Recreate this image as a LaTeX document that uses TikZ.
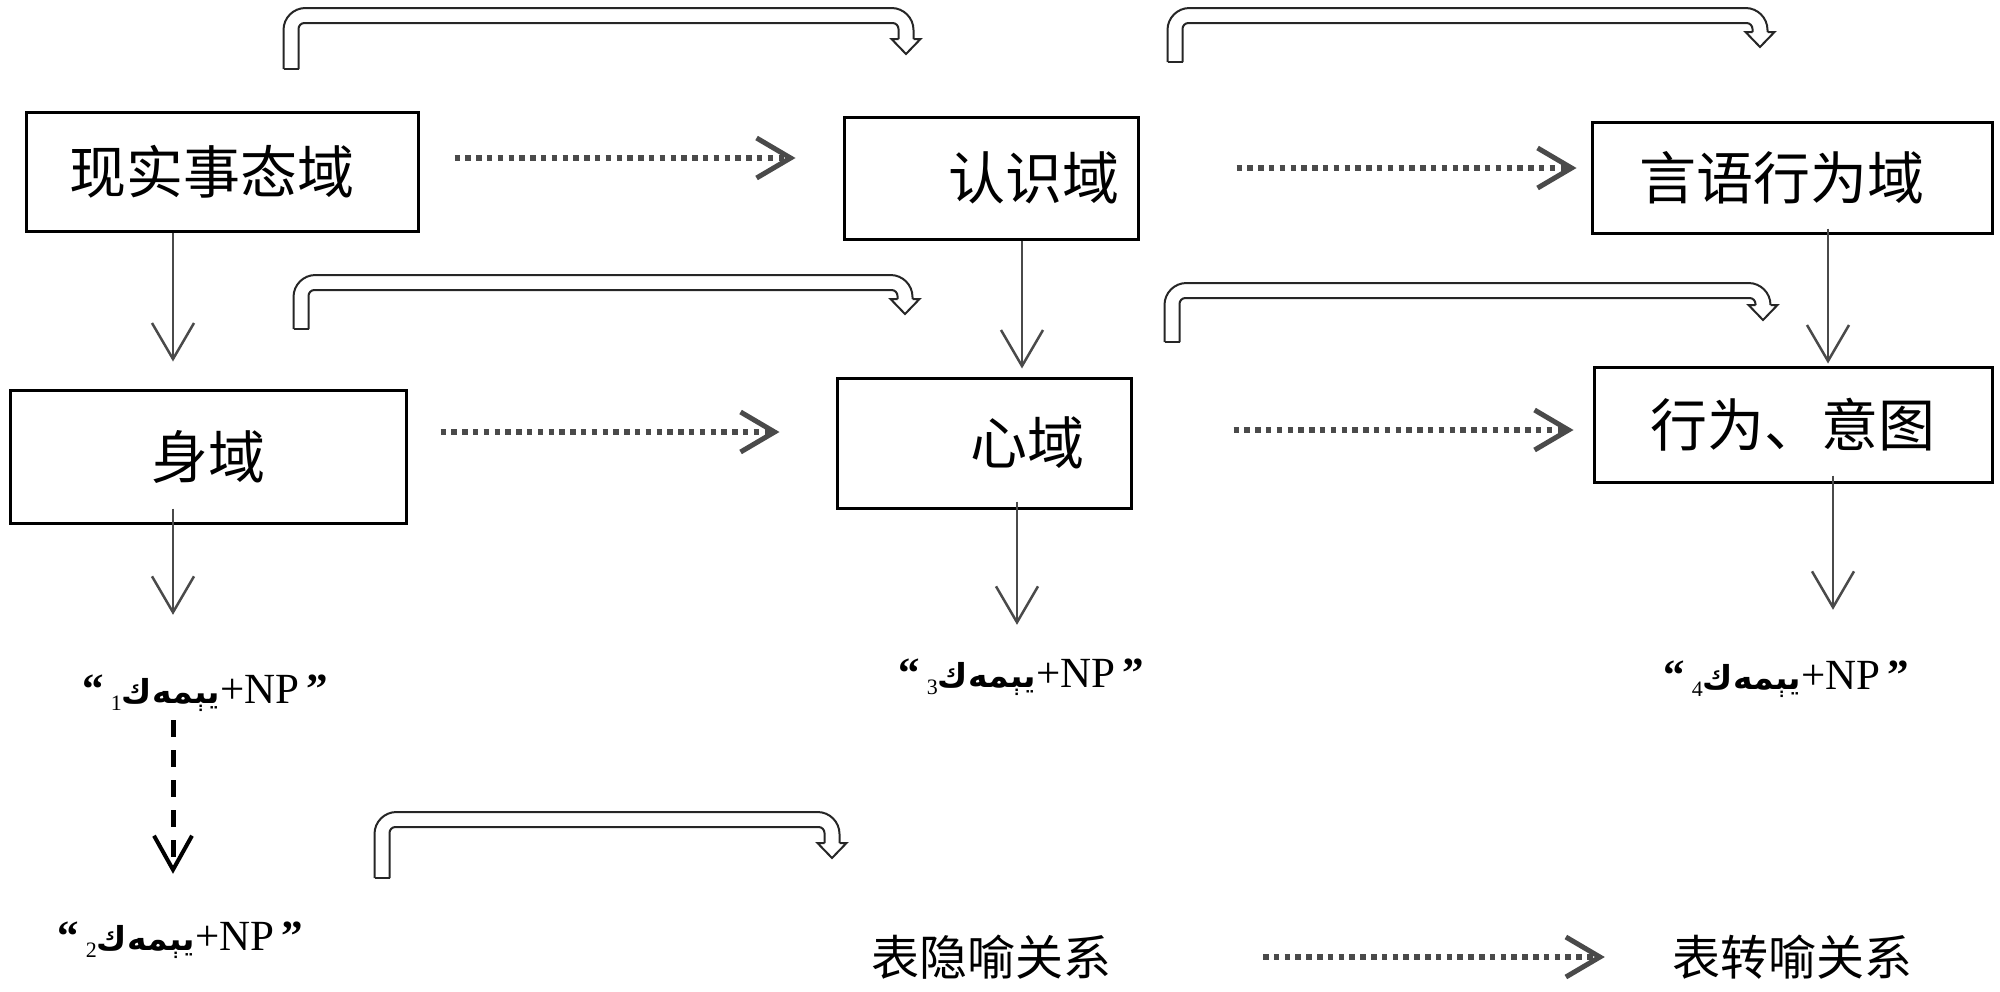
\documentclass[tikz,border=0pt]{standalone}
\usepackage{fontspec}
\setmainfont{Liberation Serif}
\newfontfamily\cjk{Noto Sans CJK SC}
\newfontfamily\arabicfont[Script=Arabic]{DejaVu Sans}
\TeXXeTstate=1
\usetikzlibrary{arrows.meta}
\definecolor{arrowgray}{HTML}{4A4A4A}

% quoted form with its index
\newcommand{\yemek}[1]{{\bfseries “}\,\raisebox{-7pt}{\fontsize{22}{24}\selectfont #1}{\arabicfont\bfseries\fontsize{33}{40}\selectfont\beginR يېمەك\endR}+NP\,{\bfseries ”}}

% hollow bent arrow: left x, bottom y, top y, right x, tip y
\newcommand{\metaarrow}[5]{%
  \draw[hook, rounded corners=22pt] (#1-7.5,#2) -- (#1-7.5,#3) -- (#4+7.5,#3) -- (#4+7.5,#5-15);
  \draw[hook, rounded corners=6pt] (#1+7.5,#2) -- (#1+7.5,#3+15) -- (#4-7.5,#3+15) -- (#4-7.5,#5-15);
  \draw[hook] (#4+7.5,#5-15) -- (#4+14.5,#5-15) -- (#4,#5) -- (#4-14.5,#5-15) -- (#4-7.5,#5-15);
  \draw[hook] (#1-7.5,#2) -- (#1+7.5,#2);}

\begin{document}
\begin{tikzpicture}[x=1pt, y=-1pt]
    % Define the styles
    \tikzset{box/.style={rectangle, draw, line width=3pt, inner sep=0pt, font=\cjk\fontsize{57}{62}\selectfont}}
    \tikzset{expr/.style={inner sep=0pt, text height=34pt, text depth=10pt, font=\fontsize{43}{50}\selectfont}}
    \tikzset{legend/.style={inner sep=0pt, font=\cjk\fontsize{48}{52}\selectfont}}
    \tikzset{down/.style={draw=arrowgray, line width=2.5pt, -{Straight Barb[length=36pt, width=42pt]}}}
    \tikzset{dotline/.style={draw=arrowgray, line width=5.5pt, dash pattern=on 5.5pt off 5.3pt, -{Straight Barb[length=34pt, width=40pt, line width=5pt]}}}
    \tikzset{dashline/.style={draw=black, line width=5pt, dash pattern=on 17pt off 13pt, -{Straight Barb[length=34pt, width=38pt, line width=4pt]}}}
    \tikzset{hook/.style={draw=black!85, line width=2pt}}

    \useasboundingbox (0,0) rectangle (2000,991);

    % Place the domain blocks
    \node[box, minimum width=392pt, minimum height=119pt] (real) at (222,171.5) {\hspace*{-20pt}现实事态域};
    \node[box, minimum width=294pt, minimum height=122pt] (cog) at (991,178) {\hspace*{86pt}认识域};
    \node[box, minimum width=400pt, minimum height=111pt] (speech) at (1792,177.5) {\hspace*{-20pt}言语行为域};
    \node[box, minimum width=396pt, minimum height=133pt] (body) at (208,456.5) {身域};
    \node[box, minimum width=294pt, minimum height=130pt] (mind) at (984,443) {\hspace*{86pt}心域};
    \node[box, minimum width=398pt, minimum height=115pt] (act) at (1793,424.5) {行为、意图};

    % The forms
    \node[expr, anchor=base] (formA) at (205,703) {\yemek{1}};
    \node[expr, anchor=base] (formB) at (180,950) {\yemek{2}};
    \node[expr, anchor=base] (formC) at (1021,687) {\yemek{3}};
    \node[expr, anchor=base] (formD) at (1786,689) {\yemek{4}};

    % Legend
    \node[legend] (metaphor) at (991,957) {表隐喻关系};
    \node[legend] (metonymy) at (1792,957) {表转喻关系};
    \coordinate (dotstart) at (1263,957);

    % Downward arrows
    \draw[down, shorten >=27pt] ([xshift=-49pt]real.south) -- ([xshift=-49pt]real.south |- body.north);
    \draw[down, shorten <=-16pt, shorten >=54pt] ([xshift=-35pt]body.south) -- ([xshift=-35pt]body.south |- formA.north);
    \draw[down, shorten >=8pt] ([xshift=31pt]cog.south) -- ([xshift=31pt]cog.south |- mind.north);
    \draw[down, shorten <=-6pt, shorten >=2pt] ([xshift=36pt]speech.south) -- ([xshift=36pt]speech.south |- act.north);
    \draw[down, shorten <=-8pt, shorten >=28pt] ([xshift=33pt]mind.south) -- ([xshift=33pt]mind.south |- formC.north);
    \draw[down, shorten <=-8pt, shorten >=45pt] ([xshift=40pt]act.south) -- ([xshift=40pt]act.south |- formD.north);
    \draw[dashline, shorten <=7pt, shorten >=42pt] ([xshift=-32pt]formA.south) -- ([xshift=-32pt]formA.south |- formB.north);

    % Metonymy arrows
    \draw[dotline, shorten <=35pt, shorten >=47pt] ([yshift=13.5pt]real.east) -- ([yshift=13.5pt]real.east -| cog.west);
    \draw[dotline, shorten <=97pt, shorten >=14pt] ([yshift=10pt]cog.east) -- ([yshift=10pt]cog.east -| speech.west);
    \draw[dotline, shorten <=33pt, shorten >=56pt] ([yshift=24.5pt]body.east) -- ([yshift=24.5pt]body.east -| mind.west);
    \draw[dotline, shorten <=101pt, shorten >=19pt] ([yshift=13pt]mind.east) -- ([yshift=13pt]mind.east -| act.west);
    \draw[dotline, shorten >=67pt] (dotstart) -- (dotstart -| metonymy.west);

    % Metaphor arrows
    \metaarrow{291}{69}{8}{906}{54}
    \metaarrow{1175}{62}{8}{1760}{47}
    \metaarrow{301}{329}{275}{905}{314}
    \metaarrow{1172}{342}{283}{1763}{320}
    \metaarrow{382}{878}{812}{832}{858}
\end{tikzpicture}
\end{document}
